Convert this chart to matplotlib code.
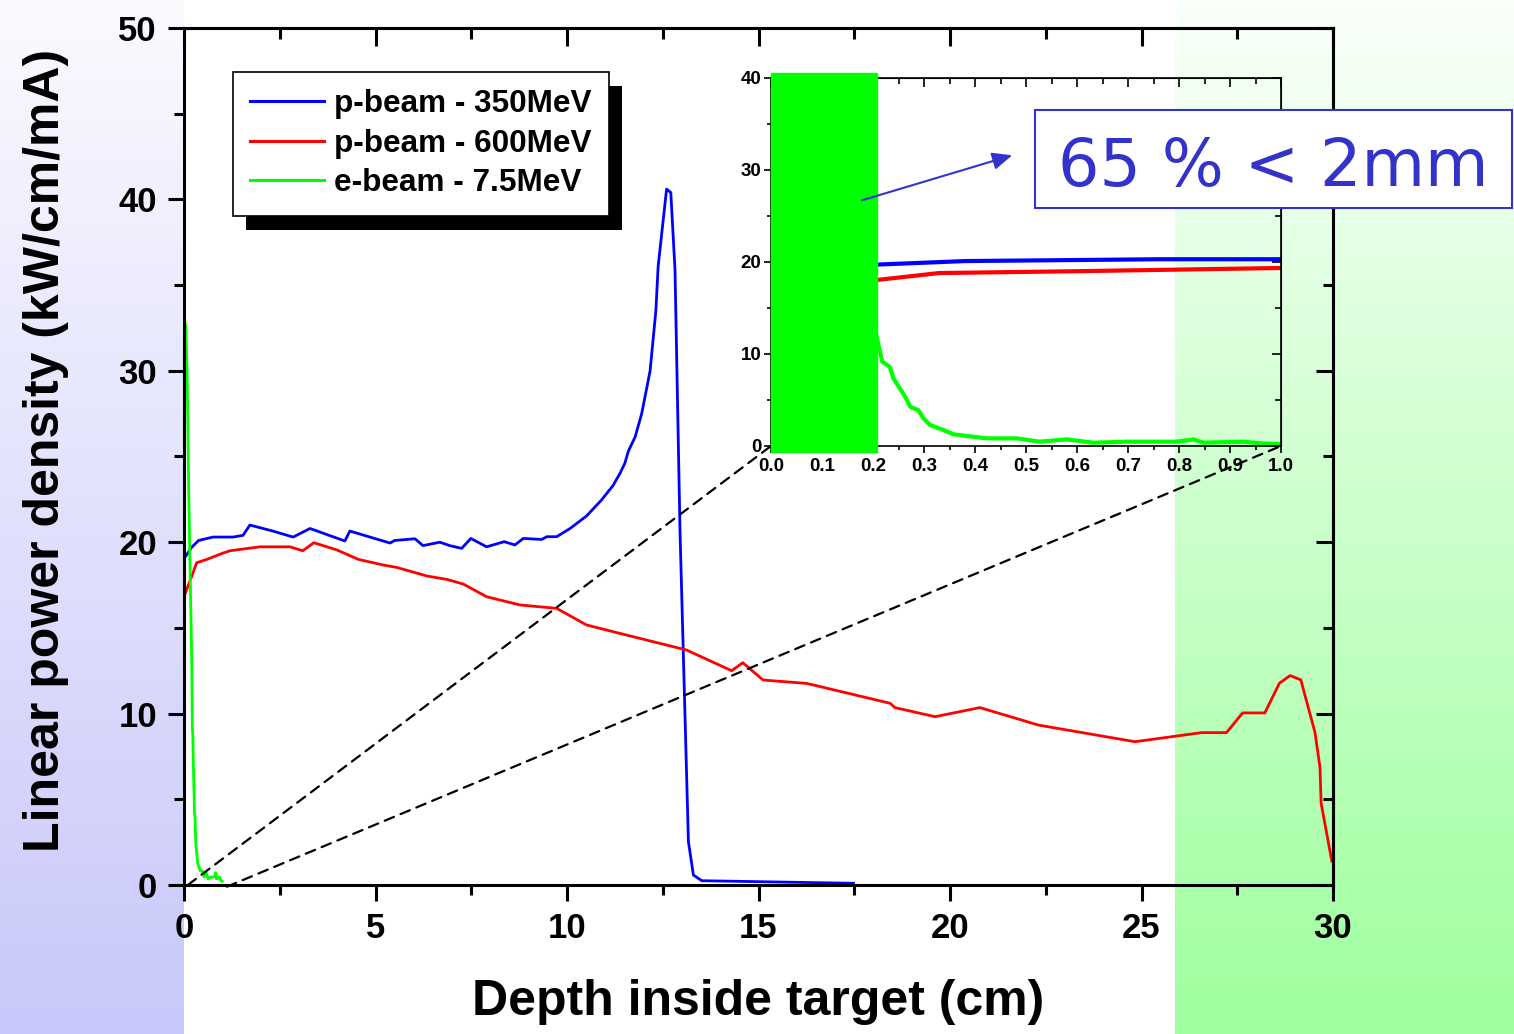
import numpy as np
import matplotlib
matplotlib.use('Agg')
import matplotlib.pyplot as plt
from matplotlib.patches import Rectangle, ConnectionPatch
from matplotlib.ticker import MultipleLocator, FormatStrFormatter

plt.rcParams['font.family'] = ['Liberation Sans', 'DejaVu Sans']
plt.rcParams['font.weight'] = 'bold'

# p-beam 350 MeV
x_350 = [0.02, 0.2, 0.38, 0.76, 1.0, 1.28, 1.54, 1.72, 2.32, 2.85, 3.29, 4.2, 4.33, 5.38, 5.5,
         6.03, 6.24, 6.68, 6.94, 7.25, 7.49, 7.9, 8.36, 8.64, 8.86, 9.34, 9.47, 9.73, 10.08,
         10.51, 10.9, 11.2, 11.38, 11.51, 11.6, 11.78, 11.95, 12.17, 12.32, 12.38, 12.6, 12.71,
         12.82, 12.95, 13.17, 13.3, 13.52, 17.48]
y_350 = [19.1, 19.7, 20.1, 20.3, 20.3, 20.3, 20.4, 21.0, 20.65, 20.3, 20.8, 20.07, 20.65, 19.95, 20.1,
         20.2, 19.8, 20.0, 19.8, 19.64, 20.22, 19.73, 20.03, 19.84, 20.22, 20.16, 20.32, 20.32, 20.8,
         21.53, 22.46, 23.3, 24.0, 24.6, 25.3, 26.15, 27.5, 30.0, 33.5, 36.1, 40.6, 40.4,
         35.9, 20.7, 2.53, 0.58, 0.25, 0.1]

# p-beam 600 MeV
x_600 = [0.03, 0.2, 0.33, 0.6, 1.0, 1.2, 1.98, 2.77, 3.1, 3.39, 3.99, 4.55, 5.2, 5.55, 6.34, 6.86,
         7.29, 7.9, 8.77, 9.73, 10.51, 11.38, 13.12, 14.3, 14.59, 15.12, 16.26, 18.44, 18.56, 19.61,
         20.78, 22.31, 24.83, 26.57, 27.22, 27.64, 28.22, 28.6, 28.88, 29.16, 29.53, 29.66, 29.69, 29.97]
y_600 = [17.0, 18.0, 18.8, 19.0, 19.35, 19.5, 19.73, 19.73, 19.5, 19.97, 19.55, 19.0, 18.67, 18.53, 18.03, 17.83,
         17.56, 16.82, 16.34, 16.14, 15.17, 14.68, 13.71, 12.5, 12.97, 11.96, 11.76, 10.6, 10.35, 9.82,
         10.35, 9.33, 8.36, 8.89, 8.89, 10.04, 10.04, 11.77, 12.22, 11.97, 8.9, 6.86, 4.77, 1.39]

# e-beam 7.5 MeV
x_e = [0.02, 0.05, 0.08, 0.1, 0.12, 0.15, 0.18, 0.204, 0.21, 0.218, 0.233, 0.24, 0.263, 0.273, 0.289,
       0.299, 0.312, 0.338, 0.358, 0.384, 0.423, 0.482, 0.527, 0.58, 0.632, 0.697, 0.795, 0.828, 0.848,
       0.926, 0.959, 0.995]
y_e = [32.9, 32.5, 30.0, 27.0, 23.5, 19.5, 15.8, 12.8, 11.16, 9.17, 8.6, 7.36, 5.36, 4.27, 3.9,
       3.0, 2.28, 1.74, 1.27, 1.09, 0.83, 0.83, 0.47, 0.72, 0.36, 0.47, 0.47, 0.72, 0.36,
       0.47, 0.29, 0.22]

labels = ['p-beam - 350MeV', 'p-beam - 600MeV', 'e-beam - 7.5MeV']
colors = ['#0000FF', '#FF0000', '#00FF00']
note = '65 % < 2mm'

W, H = 1514, 1034
fig = plt.figure(figsize=(W / 100, H / 100), dpi=100)

# background: lavender strip on the left, green strip on the right
bg = fig.add_axes([0, 0, 1, 1], zorder=-10)
img = np.ones((H, W, 3))
t = np.linspace(0, 1, H)[:, None]
lav_top, lav_bot = np.array([250, 250, 255]) / 255, np.array([200, 200, 250]) / 255
grn_top, grn_bot = np.array([250, 255, 250]) / 255, np.array([158, 255, 158]) / 255
img[:, :184] = (lav_top + (lav_bot - lav_top) * t)[:, None, :]
img[:, 1175:] = (grn_top + (grn_bot - grn_top) * t)[:, None, :]
bg.imshow(img, aspect='auto', extent=(0, 1, 0, 1))
bg.axis('off')

ax = fig.add_axes([184 / W, 149 / H, 1149 / W, 857 / H])
ax.set_facecolor('none')
ax.plot(x_350, y_350, color=colors[0], lw=2.0, label=labels[0])
ax.plot(x_600, y_600, color=colors[1], lw=2.0, label=labels[1])
ax.plot(x_e, y_e, color=colors[2], lw=2.0, label=labels[2])
ax.set_xlim(0, 30)
ax.set_ylim(0, 50)
ax.xaxis.set_major_locator(MultipleLocator(5))
ax.xaxis.set_minor_locator(MultipleLocator(2.5))
ax.yaxis.set_major_locator(MultipleLocator(10))
ax.yaxis.set_minor_locator(MultipleLocator(5))
ax.tick_params(which='both', direction='out', width=2.2, labelsize=25, pad=8)
ax.tick_params(which='major', length=11.5)
ax.tick_params(which='minor', length=7)
for s in ax.spines.values():
    s.set_linewidth(2.2)

top = ax.secondary_xaxis('top')
top.xaxis.set_major_locator(MultipleLocator(5))
top.xaxis.set_minor_locator(MultipleLocator(2.5))
top.tick_params(which='both', direction='in', width=2.2, labeltop=False)
top.tick_params(which='major', length=13)
top.tick_params(which='minor', length=8)
top.spines['top'].set_linewidth(2.2)
right = ax.secondary_yaxis('right')
right.yaxis.set_major_locator(MultipleLocator(10))
right.yaxis.set_minor_locator(MultipleLocator(5))
right.tick_params(which='both', direction='in', width=2.2, labelright=False)
right.tick_params(which='major', length=12)
right.tick_params(which='minor', length=7)
right.spines['right'].set_linewidth(2.2)

ax.set_xlabel('Depth inside target (cm)', fontsize=36, fontweight='bold')
ax.xaxis.set_label_coords(0.5, -0.137)
ax.xaxis.label.set_verticalalignment('center')
ax.set_ylabel('Linear power density (kW/cm/mA)', fontsize=36, fontweight='bold')
ax.yaxis.set_label_coords(-0.120, 0.507)
ax.yaxis.label.set_verticalalignment('center')

leg = ax.legend(loc='upper left', bbox_to_anchor=(233 / W, 1 - 72 / H), bbox_transform=fig.transFigure,
                borderaxespad=0, fancybox=False, framealpha=1, edgecolor='black',
                prop=dict(family='Liberation Sans', weight='bold', size=22.7),
                handlelength=2.35, handletextpad=0.3, labelspacing=0.3, borderpad=0.55)
leg.get_frame().set_linewidth(1.2)
for h in leg.get_lines():
    h.set_linewidth(2.2)

# inset
ax_in = fig.add_axes([771 / W, 588 / H, 510 / W, 368 / H], zorder=2)
ax_in.set_facecolor('none')
ax_in.plot(x_350, y_350, color=colors[0], lw=3, zorder=2)
ax_in.plot(x_600, y_600, color=colors[1], lw=3, zorder=2)
ax_in.plot(x_e, y_e, color=colors[2], lw=3, zorder=2)
ax_in.set_xlim(0, 1)
ax_in.set_ylim(0, 40)
ax_in.xaxis.set_major_locator(MultipleLocator(0.1))
ax_in.xaxis.set_minor_locator(MultipleLocator(0.05))
ax_in.xaxis.set_major_formatter(FormatStrFormatter('%.1f'))
ax_in.yaxis.set_major_locator(MultipleLocator(10))
ax_in.yaxis.set_minor_locator(MultipleLocator(5))
ax_in.tick_params(which='both', direction='out', width=1.2, labelsize=13.5)
ax_in.tick_params(axis='x', pad=3.5)
ax_in.tick_params(axis='y', pad=2)
ax_in.tick_params(which='major', length=5)
ax_in.tick_params(which='minor', length=3)
for s in ax_in.spines.values():
    s.set_linewidth(1.2)
tin = ax_in.secondary_xaxis('top')
tin.xaxis.set_major_locator(MultipleLocator(0.1))
tin.xaxis.set_minor_locator(MultipleLocator(0.05))
tin.tick_params(which='both', direction='in', width=1.2, labeltop=False)
tin.tick_params(which='major', length=6.5)
tin.tick_params(which='minor', length=4)
rin = ax_in.secondary_yaxis('right')
rin.yaxis.set_major_locator(MultipleLocator(10))
rin.yaxis.set_minor_locator(MultipleLocator(5))
rin.tick_params(which='both', direction='in', width=1.2, labelright=False)
rin.tick_params(which='major', length=6.5)
rin.tick_params(which='minor', length=4)

ax_in.add_patch(Rectangle((0, -0.65), 0.207, 41.15, color='#00FF00', clip_on=False, zorder=4))
ax_in.annotate('', xy=(0.473, 31.6), xytext=(0.178, 26.7), annotation_clip=False,
               arrowprops=dict(arrowstyle='-|>,head_length=0.8,head_width=0.35', color='#3333CC',
                               lw=1.5, shrinkA=0, shrinkB=0, mutation_scale=15), zorder=6)

# zoom lines
for pa, pb in [((0.1, 0), (0, 0)), ((1.12, -0.1), (1.0, 0))]:
    con = ConnectionPatch(xyA=pa, coordsA=ax.transData, xyB=pb, coordsB=ax_in.transData,
                          color='black', lw=1.6, linestyle=(0, (4.5, 3.2)))
    fig.add_artist(con)

# note box
fig.add_artist(Rectangle((1035 / W, 1 - 208 / H), 477 / W, 98 / H, transform=fig.transFigure,
                         facecolor='white', edgecolor='#3333CC', lw=1.5, zorder=10))
fig.text(1273 / W, 1 - 186 / H, note, ha='center', va='baseline', fontsize=47,
         color='#3333CC', family='DejaVu Sans', fontweight='normal', zorder=11)

# legend shadow
fig.canvas.draw()
bb = leg.get_frame().get_window_extent()
x0, y0 = fig.transFigure.inverted().transform((bb.x0 + 13, bb.y0 - 14))
x1, y1 = fig.transFigure.inverted().transform((bb.x1 + 13, bb.y1 - 14))
fig.add_artist(Rectangle((x0, y0), x1 - x0, y1 - y0, transform=fig.transFigure,
                         facecolor='black', edgecolor='none', zorder=-1))

fig.savefig('out.png', dpi=100)
